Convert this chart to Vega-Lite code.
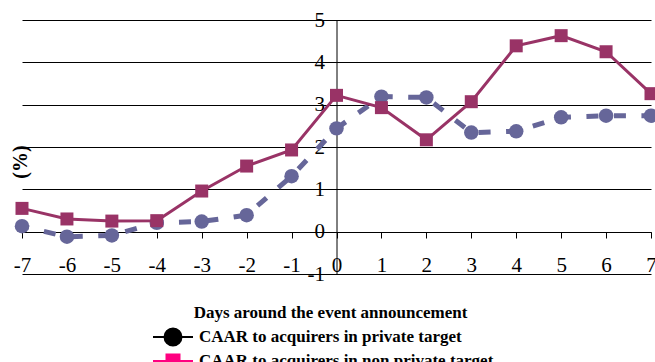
{
  "$schema": "https://vega.github.io/schema/vega-lite/v6.json",
  "width": 629,
  "height": 254,
  "autosize": {"type": "none"},
  "padding": {"left": 22, "top": 20, "right": 4, "bottom": 88},
  "background": "white",
  "config": {
    "view": {"stroke": null},
    "font": "Liberation Serif"
  },
  "data": {
    "values": [
      {"day": -7, "caar": 0.13, "series": "CAAR to acquirers in private target"},
      {"day": -6, "caar": -0.12, "series": "CAAR to acquirers in private target"},
      {"day": -5, "caar": -0.09, "series": "CAAR to acquirers in private target"},
      {"day": -4, "caar": 0.21, "series": "CAAR to acquirers in private target"},
      {"day": -3, "caar": 0.24, "series": "CAAR to acquirers in private target"},
      {"day": -2, "caar": 0.39, "series": "CAAR to acquirers in private target"},
      {"day": -1, "caar": 1.31, "series": "CAAR to acquirers in private target"},
      {"day": 0, "caar": 2.44, "series": "CAAR to acquirers in private target"},
      {"day": 1, "caar": 3.19, "series": "CAAR to acquirers in private target"},
      {"day": 2, "caar": 3.17, "series": "CAAR to acquirers in private target"},
      {"day": 3, "caar": 2.34, "series": "CAAR to acquirers in private target"},
      {"day": 4, "caar": 2.37, "series": "CAAR to acquirers in private target"},
      {"day": 5, "caar": 2.7, "series": "CAAR to acquirers in private target"},
      {"day": 6, "caar": 2.74, "series": "CAAR to acquirers in private target"},
      {"day": 7, "caar": 2.74, "series": "CAAR to acquirers in private target"},
      {"day": -7, "caar": 0.55, "series": "CAAR to acquirers in non private target"},
      {"day": -6, "caar": 0.3, "series": "CAAR to acquirers in non private target"},
      {"day": -5, "caar": 0.25, "series": "CAAR to acquirers in non private target"},
      {"day": -4, "caar": 0.26, "series": "CAAR to acquirers in non private target"},
      {"day": -3, "caar": 0.96, "series": "CAAR to acquirers in non private target"},
      {"day": -2, "caar": 1.55, "series": "CAAR to acquirers in non private target"},
      {"day": -1, "caar": 1.93, "series": "CAAR to acquirers in non private target"},
      {"day": 0, "caar": 3.22, "series": "CAAR to acquirers in non private target"},
      {"day": 1, "caar": 2.93, "series": "CAAR to acquirers in non private target"},
      {"day": 2, "caar": 2.17, "series": "CAAR to acquirers in non private target"},
      {"day": 3, "caar": 3.07, "series": "CAAR to acquirers in non private target"},
      {"day": 4, "caar": 4.39, "series": "CAAR to acquirers in non private target"},
      {"day": 5, "caar": 4.63, "series": "CAAR to acquirers in non private target"},
      {"day": 6, "caar": 4.25, "series": "CAAR to acquirers in non private target"},
      {"day": 7, "caar": 3.26, "series": "CAAR to acquirers in non private target"}
    ]
  },
  "encoding": {
    "x": {
      "field": "day",
      "type": "quantitative",
      "scale": {"domain": [-7, 7], "nice": false, "zero": false},
      "axis": {
        "orient": "bottom",
        "offset": -42,
        "values": [-7, -6, -5, -4, -3, -2, -1, 0, 1, 2, 3, 4, 5, 6, 7],
        "labelExpr": "'' + datum.value",
        "grid": false,
        "domainColor": "#000000",
        "domainWidth": 1,
        "tickColor": "#000000",
        "tickSize": 6,
        "labelPadding": 16,
        "labelFont": "Liberation Serif",
        "labelFontSize": 21,
        "labelColor": "#000000",
        "labelFlush": false,
        "labelOverlap": false,
        "title": "Days around the event announcement",
        "titleFont": "Liberation Serif",
        "titleFontSize": 17,
        "titleFontWeight": "bold",
        "titleColor": "#000000",
        "titleX": 308,
        "titleY": 85,
        "titleAlign": "center",
        "titleBaseline": "alphabetic"
      }
    },
    "y": {
      "field": "caar",
      "type": "quantitative",
      "scale": {"domain": [-1, 5], "nice": false, "zero": false},
      "axis": {
        "orient": "left",
        "offset": -314.5,
        "values": [-1, 0, 1, 2, 3, 4, 5],
        "labelExpr": "'' + datum.value",
        "grid": true,
        "gridColor": "#000000",
        "gridOpacity": 1,
        "gridWidth": 1,
        "domainColor": "#000000",
        "domainWidth": 1,
        "tickColor": "#000000",
        "tickSize": 4,
        "labelPadding": 8,
        "labelFont": "Liberation Serif",
        "labelFontSize": 21,
        "labelColor": "#000000",
        "labelFlush": false,
        "labelOverlap": false,
        "title": "(%)",
        "titleFont": "Liberation Serif",
        "titleFontSize": 20,
        "titleFontWeight": "bold",
        "titleColor": "#000000",
        "titleAngle": -90,
        "titleX": -316.5,
        "titleY": 141.5,
        "titleAlign": "center",
        "titleBaseline": "middle"
      }
    }
  },
  "layer": [
    {
      "transform": [{"filter": "datum.series === 'CAAR to acquirers in private target'"}],
      "mark": {"type": "line", "color": "#666699", "strokeWidth": 5, "strokeDash": [12, 15.5], "strokeDashOffset": 5}
    },
    {
      "transform": [{"filter": "datum.series === 'CAAR to acquirers in private target'"}],
      "mark": {"type": "point", "shape": "circle", "filled": true, "size": 210, "color": "#666699", "opacity": 1}
    },
    {
      "transform": [{"filter": "datum.series === 'CAAR to acquirers in non private target'"}],
      "mark": {"type": "line", "color": "#993366", "strokeWidth": 3}
    },
    {
      "transform": [{"filter": "datum.series === 'CAAR to acquirers in non private target'"}],
      "mark": {"type": "point", "shape": "square", "filled": true, "size": 169, "color": "#993366", "opacity": 1}
    },
    {
      "transform": [{"filter": "false"}],
      "mark": {"type": "point", "filled": true, "opacity": 1},
      "encoding": {
        "color": {
          "field": "series",
          "type": "nominal",
          "scale": {
            "domain": ["CAAR to acquirers in private target", "CAAR to acquirers in non private target"],
            "range": ["#000000", "#FF0080"]
          },
          "legend": {
            "orient": "none",
            "legendX": 140,
            "legendY": 306,
            "title": null,
            "padding": 0,
            "direction": "vertical",
            "symbolSize": 400,
            "symbolStrokeWidth": 2,
            "symbolOpacity": 1,
            "labelOffset": 15,
            "rowPadding": -2,
            "labelFont": "Liberation Serif",
            "labelFontSize": 17,
            "labelFontWeight": "bold",
            "labelColor": "#000000",
            "labelLimit": 0,
            "encode": {"symbols": {"update": {"stroke": {"scale": "color", "field": "value"}}}}
          }
        },
        "shape": {
          "field": "series",
          "type": "nominal",
          "scale": {
            "domain": ["CAAR to acquirers in private target", "CAAR to acquirers in non private target"],
            "range": [
              "M-2,0H2M-0.85,0A0.85,0.85 0 1,0 0.85,0A0.85,0.85 0 1,0 -0.85,0Z",
              "M-2,0H2M-0.65,-0.65H0.65V0.65H-0.65Z"
            ]
          }
        }
      }
    }
  ]
}
